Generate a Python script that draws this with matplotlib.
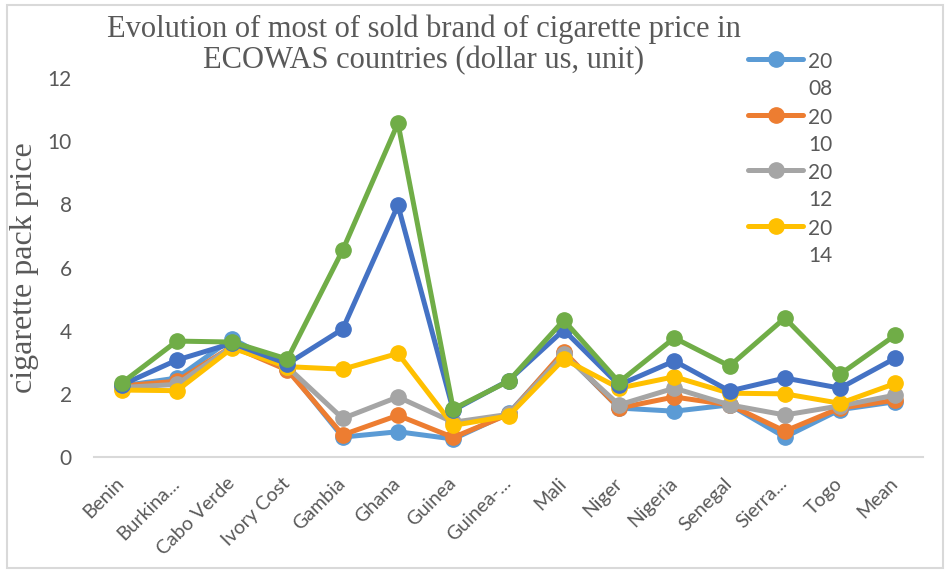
import numpy as np
import matplotlib
matplotlib.use("Agg")
import matplotlib.pyplot as plt
from matplotlib.patches import Rectangle
from matplotlib.transforms import ScaledTranslation

# data
countries = ['Benin', 'Burkina...', 'Cabo Verde', 'Ivory Cost', 'Gambia', 'Ghana', 'Guinea',
             'Guinea-...', 'Mali', 'Niger', 'Nigeria', 'Senegal', 'Sierra...', 'Togo', 'Mean']
years = ['2008', '2010', '2012', '2014', '2016', '2018']
p2008 = [2.25, 2.50, 3.75, 2.80, 0.63, 0.80, 0.57, 1.38, 3.30, 1.55, 1.45, 1.65, 0.63, 1.50, 1.75]
p2010 = [2.25, 2.40, 3.50, 2.75, 0.70, 1.32, 0.62, 1.35, 3.34, 1.55, 1.90, 1.65, 0.82, 1.55, 1.80]
p2012 = [2.20, 2.30, 3.50, 2.85, 1.22, 1.90, 1.10, 1.35, 3.25, 1.65, 2.18, 1.65, 1.33, 1.62, 1.96]
p2014 = [2.12, 2.10, 3.45, 2.86, 2.78, 3.28, 1.00, 1.30, 3.10, 2.18, 2.54, 2.02, 2.00, 1.70, 2.33]
p2016 = [2.28, 3.07, 3.60, 2.95, 4.05, 7.97, 1.48, 2.42, 4.02, 2.28, 3.04, 2.09, 2.50, 2.18, 3.13]
p2018 = [2.34, 3.67, 3.64, 3.10, 6.55, 10.57, 1.52, 2.40, 4.33, 2.37, 3.77, 2.88, 4.40, 2.62, 3.86]
series = [p2008, p2010, p2012, p2014, p2016, p2018]
colors = ['#5B9BD5', '#ED7D31', '#A5A5A5', '#FFC000', '#4472C4', '#70AD47']
in_legend = [True, True, True, True, False, False]

txt = '#595959'
plt.rcParams['font.family'] = ['Lato', 'DejaVu Sans']

fig = plt.figure(figsize=(9.48, 5.73), dpi=100)
ax = fig.add_axes([94/948, 1 - 457/573, (923 - 94)/948, (457 - 78)/573])

x = np.arange(len(countries))
for yr, vals, c, show in zip(years, series, colors, in_legend):
    lab = yr[:2] + '\n' + yr[2:] if show else '_nolegend_'
    ax.plot(x, vals, color=c, lw=3.6, marker='o', markersize=11, label=lab,
            solid_capstyle='round', solid_joinstyle='round')

ax.set_xlim(-0.5, len(countries) - 0.5)
ax.set_ylim(0, 12)
ax.set_yticks(range(0, 13, 2))
ax.set_xticks(x)
ax.set_xticklabels(countries, rotation=45, ha='right', va='center',
                   rotation_mode='anchor', fontsize=14, color=txt)
for lbl in ax.get_xticklabels():
    lbl.set_transform(lbl.get_transform() + ScaledTranslation(0.09, 0, fig.dpi_scale_trans))
ax.tick_params(axis='x', length=0, pad=17)
ax.tick_params(axis='y', length=0, pad=16, labelsize=15, labelcolor=txt)
for s in ['top', 'right', 'left']:
    ax.spines[s].set_visible(False)
ax.spines['bottom'].set_color('#D9D9D9')
ax.spines['bottom'].set_linewidth(1.5)

ax.set_ylabel('cigarette pack price', family='Liberation Serif', fontsize=23,
              color=txt)
ax.yaxis.set_label_coords(-55/829, 0.5)

fig.text(424/948, 1 - 15/573,
         'Evolution of most of sold brand of cigarette price in\nECOWAS countries (dollar us, unit)',
         family='Liberation Serif', fontsize=22, color=txt, ha='center', va='top',
         linespacing=1.08)

leg = ax.legend(loc='upper left', bbox_to_anchor=(748/948, 1 - 52/573),
                bbox_transform=fig.transFigure, frameon=False, fontsize=15,
                handlelength=2.65, handletextpad=0.25, labelspacing=0.4,
                borderaxespad=0, borderpad=0)
for t in leg.get_texts():
    t.set_color(txt)
    t.set_linespacing(1.45)
for col in leg._legend_handle_box.get_children():
    for item in col.get_children():
        item.align = 'top'

fig.patches.append(Rectangle((7/948, 5/573), 936/948, 563/573, transform=fig.transFigure,
                             fill=False, edgecolor='#D9D9D9', lw=1.5))

fig.savefig('out.png', dpi=100)
